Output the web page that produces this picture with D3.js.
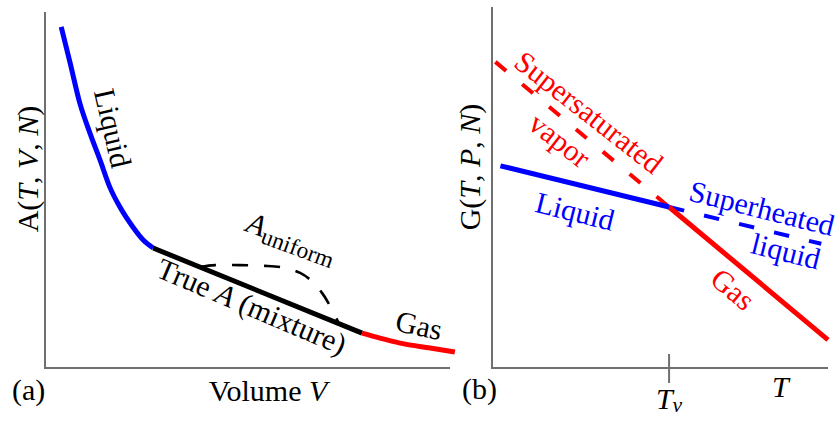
<!DOCTYPE html>
<html><head><meta charset="utf-8">
<script src="https://cdn.jsdelivr.net/npm/d3@7"></script>
<style>
html,body{margin:0;padding:0;background:#fff;}
text{font-family:"Liberation Serif",serif;}
</style></head>
<body><svg id="c" width="839" height="421"></svg>
<script>
// ---- Panel (a): Helmholtz free energy vs volume ----
const liquidV = [0.40, 0.62, 0.86, 1.11, 1.36, 1.60, 1.85, 2.17, 2.42, 2.67];
const liquidA = [9.58, 8.57, 7.44, 6.60, 5.84, 5.08, 4.52, 3.96, 3.60, 3.37];
const mixtureV = [2.67, 7.83];
const mixtureA = [3.37, 0.98];
const gasV = [7.83, 8.27, 8.77, 9.51, 10.12];
const gasA = [0.98, 0.84, 0.70, 0.56, 0.45];
const uniformV = [3.83, 4.20, 4.81, 5.43, 5.93, 6.30, 6.59, 6.84, 7.04, 7.24];
const uniformA = [2.84, 2.89, 2.89, 2.87, 2.81, 2.67, 2.44, 2.11, 1.74, 1.29];

// ---- Panel (b): Gibbs free energy vs temperature ----
const Tv = 5.27;
const liquidT = [0.25, 5.27, 9.8];
const liquidG = [5.60, 4.46, 3.44];
const gasT = [0.10, 5.27, 10.0];
const gasG = [8.48, 4.46, 0.78];

const svg = d3.select("#c");
const BLUE = "#0000ff", RED = "#ff0000", AXIS = "#707070";

const xA = d3.scaleLinear().domain([0, 10]).range([45, 450]);
const yA = d3.scaleLinear().domain([0, 10]).range([368, 12]);
const xB = d3.scaleLinear().domain([0, 10]).range([492, 828]);
const yB = d3.scaleLinear().domain([0, 10]).range([368, 7]);

function pts(xs, ys) { return xs.map((x, i) => [x, ys[i]]); }

// axes (a)
svg.append("line").attr("x1", xA(0)).attr("x2", xA(0)).attr("y1", yA(10)).attr("y2", yA(0))
  .attr("stroke", AXIS).attr("stroke-width", 2);
svg.append("line").attr("x1", xA(0) - 1).attr("x2", xA(10)).attr("y1", yA(0)).attr("y2", yA(0))
  .attr("stroke", AXIS).attr("stroke-width", 2);
// axes (b)
svg.append("line").attr("x1", xB(0)).attr("x2", xB(0)).attr("y1", yB(10)).attr("y2", yB(0))
  .attr("stroke", AXIS).attr("stroke-width", 2);
svg.append("line").attr("x1", xB(0) - 1).attr("x2", xB(10)).attr("y1", yB(0)).attr("y2", yB(0))
  .attr("stroke", AXIS).attr("stroke-width", 2);
svg.append("line").attr("x1", xB(Tv)).attr("x2", xB(Tv)).attr("y1", yB(0) - 14).attr("y2", yB(0) + 15)
  .attr("stroke", AXIS).attr("stroke-width", 2);

const lineA = d3.line().x(d => xA(d[0])).y(d => yA(d[1]));
const lineB = d3.line().x(d => xB(d[0])).y(d => yB(d[1]));

// panel (a) curves
svg.append("path").attr("d", lineA.curve(d3.curveCatmullRom)(pts(uniformV, uniformA)))
  .attr("fill", "none").attr("stroke", "#000").attr("stroke-width", 2.6).attr("stroke-dasharray", "16,16");
svg.append("path").attr("d", lineA.curve(d3.curveMonotoneX)(pts(liquidV, liquidA)))
  .attr("fill", "none").attr("stroke", BLUE).attr("stroke-width", 5);
svg.append("path").attr("d", lineA.curve(d3.curveLinear)(pts(mixtureV, mixtureA)))
  .attr("fill", "none").attr("stroke", "#000").attr("stroke-width", 5);
svg.append("path").attr("d", lineA.curve(d3.curveMonotoneX)(pts(gasV, gasA)))
  .attr("fill", "none").attr("stroke", RED).attr("stroke-width", 5);

// panel (b) lines
const liqPts = pts(liquidT, liquidG), gasPts = pts(gasT, gasG);
svg.append("path").attr("d", lineB(gasPts.slice(0, 2)))
  .attr("fill", "none").attr("stroke", RED).attr("stroke-width", 4).attr("stroke-dasharray", "14,21");
svg.append("path").attr("d", lineB(liqPts.slice(1)))
  .attr("fill", "none").attr("stroke", BLUE).attr("stroke-width", 4).attr("stroke-dasharray", "15.5,20.5");
svg.append("path").attr("d", lineB(gasPts.slice(1)))
  .attr("fill", "none").attr("stroke", RED).attr("stroke-width", 5);
svg.append("path").attr("d", lineB(liqPts.slice(0, 2)))
  .attr("fill", "none").attr("stroke", BLUE).attr("stroke-width", 5);

const FS = 30;
function label(x, y, rot, color, parts, size) {
  const t = svg.append("text")
    .attr("transform", `translate(${x},${y}) rotate(${rot})`)
    .attr("text-anchor", "middle").attr("dy", "0.35em")
    .attr("font-size", size || FS).attr("fill", color);
  parts.forEach(p => {
    const s = t.append("tspan").text(p.t);
    if (p.i) s.attr("font-style", "italic");
    if (p.sub) s.attr("font-size", (size || FS) * 0.78).attr("dy", p.sub);
  });
  return t;
}

// panel (a) labels
label(27, 169, -90, "#000", [{t: "A"}, {t: "("}, {t: "T", i: 1}, {t: ", "}, {t: "V", i: 1}, {t: ", "}, {t: "N", i: 1}, {t: ")"}]);
label(268, 390, 0, "#000", [{t: "Volume "}, {t: "V", i: 1}]);
svg.append("text").attr("x", 12).attr("y", 400).attr("font-size", FS).text("(a)");
label(113, 128, 77, "#000", [{t: "Liquid"}]);
label(292, 237, 20, "#000", [{t: "A", i: 1}, {t: "uniform", sub: "0.25em"}]);
label(252, 306, 23, "#000", [{t: "True "}, {t: "A", i: 1}, {t: " (mixture)"}]);
label(419, 325, 12, "#000", [{t: "Gas"}]);

// panel (b) labels
label(469, 167, -90, "#000", [{t: "G"}, {t: "("}, {t: "T", i: 1}, {t: ", "}, {t: "P", i: 1}, {t: ", "}, {t: "N", i: 1}, {t: ")"}]);
svg.append("text").attr("x", 462).attr("y", 399).attr("font-size", FS).text("(b)");
svg.append("text").attr("x", 772).attr("y", 397).attr("font-size", FS).attr("font-style", "italic").text("T");
const tv = svg.append("text").attr("x", xB(Tv)).attr("y", 409).attr("text-anchor", "middle").attr("font-size", FS);
tv.append("tspan").attr("font-style", "italic").text("T");
tv.append("tspan").attr("font-style", "italic").attr("font-size", FS * 0.72).attr("dy", "0.15em").text("v");

label(589, 112, 38, RED, [{t: "Supersaturated"}]);
label(560, 140, 38, RED, [{t: "vapor"}]);
label(575, 211, 14, BLUE, [{t: "Liquid"}]);
label(762, 208, 14, BLUE, [{t: "Superheated"}]);
label(786, 251, 14, BLUE, [{t: "liquid"}]);
label(733, 289, 40, RED, [{t: "Gas"}]);
</script></body></html>
